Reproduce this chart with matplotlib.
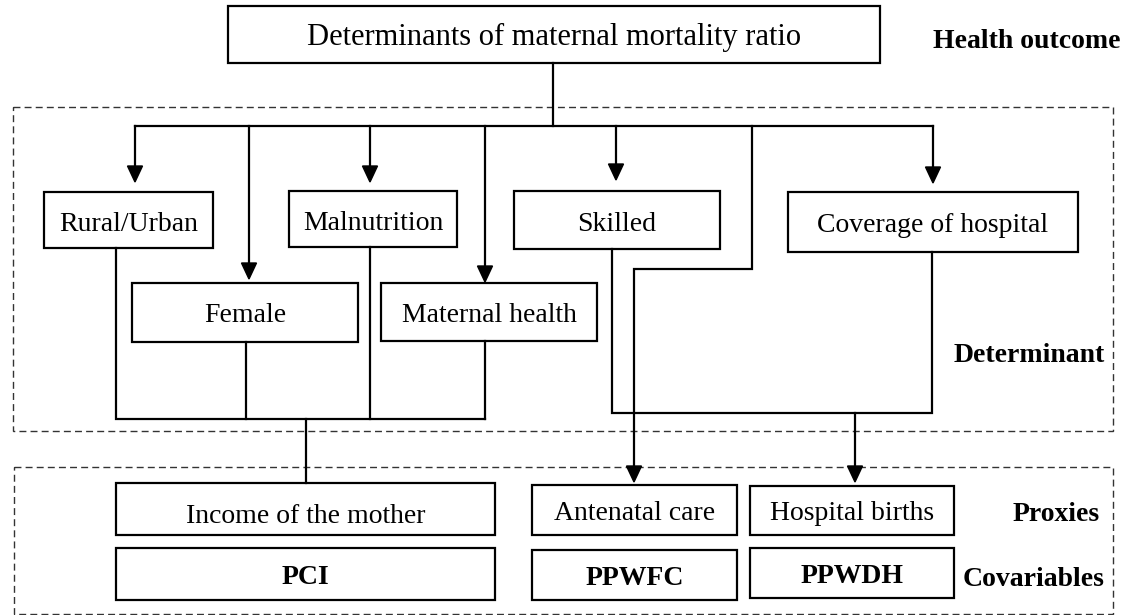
import matplotlib
matplotlib.use('Agg')
import matplotlib.pyplot as plt
from matplotlib.patches import Rectangle, Polygon

plt.rcParams['font.family'] = ['Liberation Serif', 'DejaVu Serif']

# Box labels and their pixel extents (x0, y0, x1, y1), image coords (y down)
box_labels = ["Determinants of maternal mortality ratio",
              "Rural/Urban", "Malnutrition", "Skilled", "Coverage of hospital",
              "Female", "Maternal health",
              "Income of the mother", "Antenatal care", "Hospital births",
              "PCI", "PPWFC", "PPWDH"]
box_extents = [(228, 6, 880, 63),
               (44, 192, 213, 248), (289, 191, 457, 247), (514, 191, 720, 249), (788, 192, 1078, 252),
               (132, 283, 358, 342), (381, 283, 597, 341),
               (116, 483, 495, 535), (532, 485, 737, 535), (750, 486, 954, 535),
               (116, 548, 495, 600), (532, 550, 737, 600), (750, 548, 954, 598)]
box_bold = [False] * 10 + [True] * 3
box_fontsize = [22] + [20] * 12
# baseline offset below box centre
box_baseline = [10.5, 11, 11, 11, 10, 9.5, 9.5, 14, 10, 10, 10, 10, 10]

# level labels on the right (right edge, baseline)
level_labels = ["Health outcome", "Determinant", "Proxies", "Covariables"]
level_pos = [(1121, 48), (1105, 362), (1100, 521), (1105, 586)]

# dashed group frames
frames = [(13, 107, 1113, 431), (14, 467, 1113, 614)]

# plain connector lines (polylines)
lines = [
    [(553, 63), (553, 126)],
    [(135, 126), (933, 126)],
    [(116, 248), (116, 419), (485, 419)],
    [(246, 342), (246, 419)],
    [(370, 247), (370, 419)],
    [(485, 341), (485, 419)],
    [(306, 419), (306, 483)],
    [(612, 249), (612, 413), (932, 413), (932, 252)],
]

# arrows: polyline ending in an arrow head
arrows = [
    [(135, 126), (135, 182)],
    [(249, 126), (249, 279)],
    [(370, 126), (370, 182)],
    [(485, 126), (485, 282)],
    [(616, 126), (616, 180)],
    [(933, 126), (933, 183)],
    [(752, 126), (752, 269), (634, 269), (634, 482)],
    [(855, 413), (855, 482)],
]

fig = plt.figure(figsize=(11.38, 6.15), dpi=100)
ax = fig.add_axes([0, 0, 1, 1])
ax.set_xlim(0, 1138)
ax.set_ylim(615, 0)
ax.axis('off')

for (x0, y0, x1, y1) in frames:
    ax.add_patch(Rectangle((x0, y0), x1 - x0, y1 - y0, fill=False, edgecolor='#333333',
                           lw=1.0, linestyle=(0, (5, 3))))

for pts in lines:
    xs, ys = zip(*pts)
    ax.plot(xs, ys, color='black', lw=1.6, solid_capstyle='projecting', solid_joinstyle='miter')

head_len, head_half = 16, 7.5
for pts in arrows:
    xs, ys = zip(*pts)
    tip_x, tip_y = pts[-1]
    ax.plot(xs[:-1] + (tip_x,), ys[:-1] + (tip_y - head_len,), color='black', lw=1.6,
            solid_joinstyle='miter')
    ax.add_patch(Polygon([(tip_x - head_half, tip_y - head_len), (tip_x + head_half, tip_y - head_len),
                          (tip_x, tip_y)], closed=True, color='black'))

for label, (x0, y0, x1, y1), bold, fs, off in zip(box_labels, box_extents, box_bold,
                                                  box_fontsize, box_baseline):
    ax.add_patch(Rectangle((x0, y0), x1 - x0, y1 - y0, facecolor='white', edgecolor='black', lw=1.6))
    ax.text((x0 + x1) / 2, (y0 + y1) / 2 + off, label, ha='center', va='baseline', fontsize=fs,
            fontweight='bold' if bold else 'normal')

for label, (x, y) in zip(level_labels, level_pos):
    ax.text(x, y, label, ha='right', va='baseline', fontsize=20, fontweight='bold')

fig.savefig("out.png", dpi=100, facecolor='white')
